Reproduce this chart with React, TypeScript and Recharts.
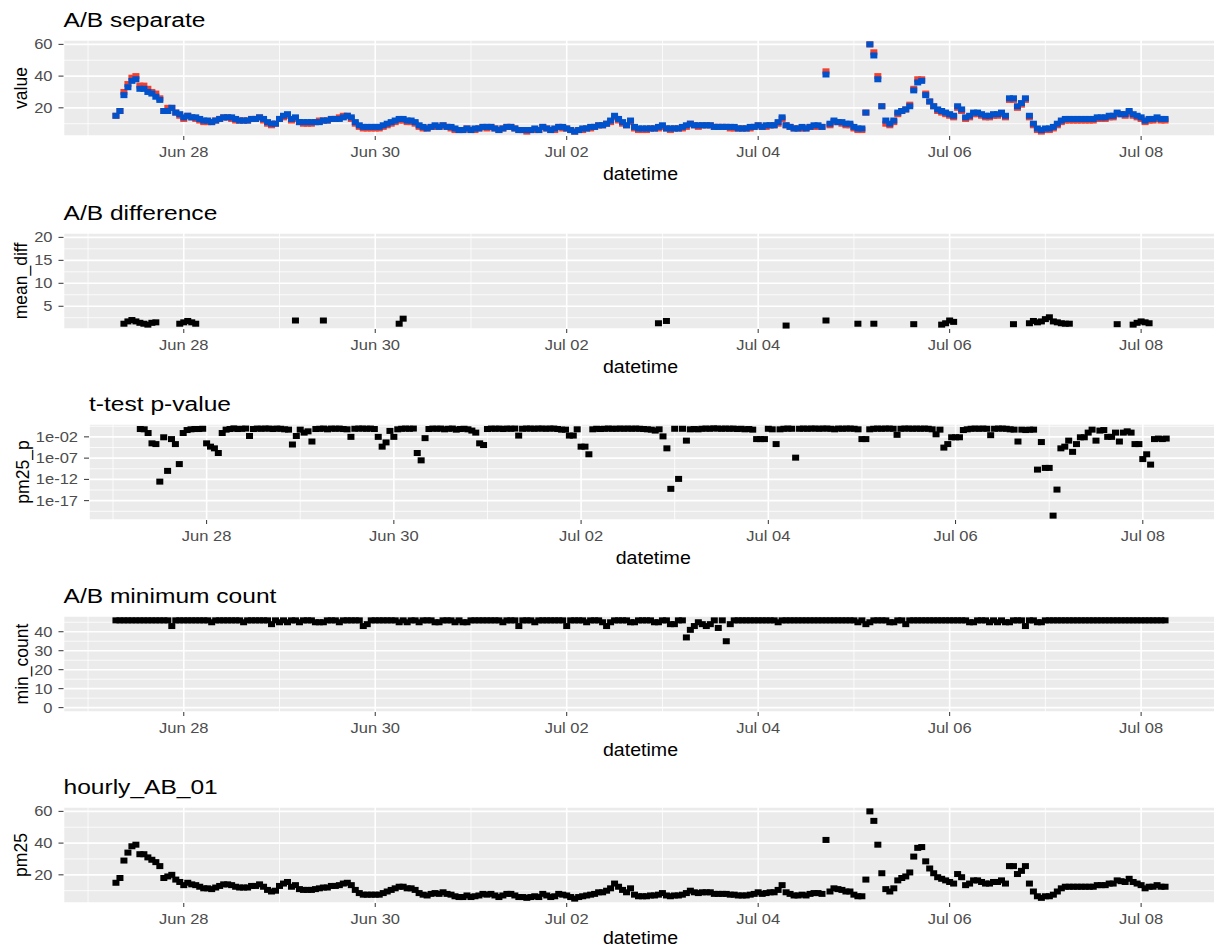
import React from 'react';
import { ScatterChart, Scatter, XAxis, YAxis, CartesianGrid } from 'recharts';

const FONT = '"Liberation Sans", Arial, Helvetica, sans-serif';
// the reference picture is a little wider than tall, so text gets a small horizontal stretch
const STRETCH = 1.18;

// hourly readings; hours counted from Jun 27 00:00, first reading at 07:00
const START_HOUR = 7;

const xTicks = [24, 72, 120, 168, 216, 264];
const xTickLabels = ['Jun 28', 'Jun 30', 'Jul 02', 'Jul 04', 'Jul 06', 'Jul 08'];
const xMinor = [0, 48, 96, 144, 192, 240];

// A/B separate, one row per day (first row starts 07:00, last row ends 06:00)
const sensorA = [
  15, 18, 30, 35, 39, 40, 34, 34, 32, 30, 29, 26, 18, 20, 20, 17, 15,
  13, 15, 14, 13, 12, 11, 11, 11, 12, 13, 14, 14, 13, 12, 12, 12, 12, 13, 13, 14, 12, 10, 9, 10,
  13, 14, 15, 12, 13, 11, 10, 10, 10, 11, 12, 12, 12, 13, 13, 14, 15, 15, 13, 10, 8, 7, 7, 7,
  7, 7, 8, 9, 10, 11, 12, 12, 11, 11, 10, 8, 7, 7, 8, 8, 8, 9, 8, 7, 6, 6, 6, 7,
  6, 6, 7, 8, 7, 8, 7, 6, 7, 8, 8, 7, 6, 6, 5, 6, 6, 6, 8, 7, 6, 6, 8, 7,
  7, 6, 5, 6, 6, 7, 7, 8, 9, 9, 10, 11, 14, 12, 10, 9, 11, 7, 6, 6, 6, 7, 7, 7,
  8, 7, 6, 7, 7, 7, 8, 10, 9, 8, 9, 9, 9, 8, 8, 8, 8, 7, 7, 7, 7, 7, 7, 8,
  9, 8, 8, 9, 9, 10, 13, 9, 8, 7, 7, 7, 7, 8, 8, 8, 8, 43, 9, 11, 11, 10, 9, 9,
  7, 6, 6, 17, 60, 55, 40, 21, 10, 9, 11, 16, 18, 19, 22, 32, 38, 38, 29, 24, 21, 18, 17, 16,
  15, 14, 20, 18, 13, 14, 16, 16, 15, 14, 14, 15, 15, 16, 14, 25, 25, 20, 22, 25, 14, 9, 6, 5,
  6, 6, 7, 9, 11, 12, 12, 12, 12, 12, 12, 12, 12, 13, 13, 13, 14, 14, 16, 16, 15, 17, 15, 14,
  13, 11, 12, 12, 13, 12, 12,
];

const sensorB = [
  15, 18, 28, 33, 37, 38, 32, 32, 30, 29, 27, 25, 18, 18, 20, 17, 16,
  14, 15, 14, 14, 13, 12, 12, 11, 12, 13, 14, 14, 14, 13, 12, 12, 12, 13, 13, 14, 13, 11, 10, 10,
  13, 15, 16, 13, 14, 11, 11, 11, 11, 11, 11, 12, 12, 13, 13, 13, 14, 15, 14, 11, 9, 8, 8, 8,
  8, 8, 9, 10, 11, 12, 13, 13, 12, 12, 11, 9, 8, 7, 8, 9, 8, 9, 8, 8, 7, 6, 6, 7,
  6, 7, 7, 8, 8, 8, 7, 6, 7, 8, 8, 7, 6, 6, 6, 6, 7, 6, 8, 7, 6, 7, 8, 8,
  7, 6, 5, 6, 7, 7, 8, 8, 9, 9, 10, 12, 15, 13, 11, 9, 12, 8, 7, 7, 7, 7, 7, 8,
  9, 7, 7, 7, 7, 8, 9, 10, 9, 9, 9, 9, 9, 8, 8, 8, 8, 8, 8, 7, 7, 7, 8, 8,
  9, 8, 9, 9, 9, 11, 14, 9, 8, 7, 7, 8, 7, 8, 9, 9, 8, 41, 10, 12, 11, 11, 10, 10,
  8, 7, 7, 17, 60, 53, 38, 21, 12, 10, 12, 17, 18, 19, 21, 31, 36, 37, 28, 24, 21, 19, 18, 17,
  16, 15, 21, 19, 14, 15, 17, 17, 16, 15, 15, 16, 16, 17, 15, 26, 26, 21, 23, 26, 15, 10, 7, 6,
  7, 7, 8, 10, 12, 13, 13, 13, 13, 13, 13, 13, 13, 14, 14, 14, 15, 15, 17, 16, 16, 18, 16, 15,
  14, 12, 13, 13, 14, 13, 13,
];

// A/B difference, only the hours where it was kept
const meanDiffHours = [
  9, 10, 11, 12, 13, 14, 15, 16, 17, 23, 24, 25, 26, 27, 52, 59, 78, 79, 143, 145, 175, 185, 193, 197, 207,
  214, 215, 216, 217, 232, 236, 237, 238, 239, 240, 241, 242, 243, 244, 245, 246, 258, 262, 263, 264, 265, 266,
];
const meanDiffValues = [
  1.2, 1.7, 2.0, 1.7, 1.4, 1.2, 1.0, 1.4, 1.5, 1.2, 1.5, 1.8, 1.5, 1.2, 1.9, 1.9, 1.2, 2.3, 1.3, 1.8, 0.8, 1.9, 1.2, 1.2, 1.1,
  1.0, 1.3, 1.9, 1.6, 1.1, 1.3, 1.8, 1.5, 1.7, 2.2, 2.6, 1.7, 1.5, 1.3, 1.2, 1.2, 1.1, 1.0, 1.4, 1.7, 1.5, 1.3,
];

// t-test p-value
const pValues = [
  0.7, 0.6, 0.08, 3e-4, 2e-4, 3e-13, 8e-3, 1e-10, 3e-3, 2e-4, 4e-9, 0.08, 0.4, 0.6, 0.7, 0.7, 0.8,
  3e-4, 5e-5, 2e-5, 1.6e-6, 0.08, 0.5, 0.7, 1, 0.7, 0.8, 0.9, 0.016, 0.7, 0.9, 0.8, 0.9, 0.9, 0.7, 0.9, 0.8, 0.6, 0.5, 1.6e-4, 0.016,
  0.5, 0.1, 0.2, 8e-4, 0.7, 0.8, 0.9, 0.6, 0.9, 0.8, 0.9, 0.7, 0.6, 0.01, 0.8, 0.9, 0.9, 0.8, 0.9, 0.7, 0.01, 5e-5, 5e-4, 0.25,
  0.01, 0.6, 0.8, 0.9, 0.8, 0.9, 1.6e-6, 3e-8, 5e-3, 0.7, 0.9, 0.8, 0.9, 0.6, 0.8, 0.9, 0.5, 0.7, 0.8, 0.6, 0.3, 0.1, 3e-4, 1.2e-4,
  0.7, 0.9, 0.8, 0.9, 0.7, 0.9, 0.8, 0.9, 0.02, 0.8, 0.9, 0.9, 0.8, 0.9, 0.9, 0.8, 0.9, 0.9, 0.7, 0.5, 0.5, 0.02, 0.02, 0.6,
  5e-5, 5e-5, 8e-7, 0.6, 0.8, 0.7, 0.8, 0.9, 0.8, 0.8, 0.9, 0.8, 0.9, 0.8, 0.9, 0.8, 0.7, 0.6, 0.5, 0.3, 0.6, 0.013, 2e-5, 6e-15,
  0.8, 1.3e-12, 0.8, 1.3e-3, 0.6, 0.7, 0.6, 0.8, 0.9, 0.8, 1, 0.9, 0.8, 0.9, 0.8, 0.9, 0.7, 0.8, 0.6, 0.7, 0.5, 3e-3, 3e-3, 3e-3,
  0.8, 0.6, 2e-4, 0.6, 0.8, 0.9, 0.8, 1.3e-7, 0.8, 0.9, 0.8, 0.9, 0.9, 0.8, 0.9, 0.9, 0.8, 0.6, 0.9, 0.8, 0.9, 0.9, 0.8, 0.6,
  3e-3, 3e-3, 0.6, 0.8, 0.9, 0.8, 0.9, 0.9, 0.8, 0.03, 0.8, 0.9, 0.9, 0.8, 0.9, 0.8, 0.9, 0.8, 0.6, 0.04, 0.5, 3e-5, 2e-4, 8e-3,
  8e-3, 8e-3, 0.4, 0.6, 0.8, 0.9, 0.8, 0.9, 0.8, 0.025, 0.8, 0.9, 0.9, 0.8, 0.6, 0.5, 8e-4, 0.5, 0.4, 0.5, 0.5, 2e-10, 6e-4, 5e-10,
  5e-10, 3e-21, 4e-15, 2e-5, 5e-5, 1.3e-3, 3e-6, 2e-4, 8e-3, 8e-3, 0.1, 0.5, 1.3e-3, 0.3, 0.4, 0.01, 0.01, 0.1, 8e-4, 0.1, 0.2, 0.1, 2e-4, 2e-4,
  6e-8, 8e-7, 3e-9, 3e-3, 4e-3, 3e-3, 4e-3,
];
const pTicks = [1e-17, 1e-12, 1e-7, 1e-2];
const pMinor = [3.16, 3.16e-5, 3.16e-10, 3.16e-15, 3.16e-20];

// A/B minimum count
const minCount = [
  46, 46, 46, 46, 46, 46, 46, 46, 46, 46, 46, 46, 46, 46, 43, 46, 46,
  46, 46, 46, 46, 46, 46, 46, 45, 46, 46, 46, 46, 46, 46, 46, 45, 46, 46, 46, 46, 46, 46, 44, 46,
  45, 46, 45, 46, 46, 45, 46, 46, 46, 45, 45, 45, 46, 46, 46, 45, 46, 46, 46, 46, 46, 43, 44, 46,
  46, 46, 46, 46, 46, 46, 45, 46, 45, 46, 46, 45, 46, 46, 46, 45, 45, 46, 46, 46, 45, 46, 45, 45,
  46, 46, 46, 46, 46, 46, 46, 46, 45, 46, 46, 46, 43, 46, 46, 46, 45, 46, 46, 46, 46, 46, 46, 46,
  43, 46, 46, 46, 46, 45, 46, 46, 46, 45, 43, 45, 46, 46, 46, 46, 45, 45, 46, 46, 46, 46, 45, 45,
  46, 46, 44, 44, 46, 46, 37, 41, 43, 45, 44, 43, 44, 46, 42, 46, 35, 44, 46, 46, 46, 46, 46, 46,
  46, 46, 46, 46, 46, 45, 46, 46, 46, 46, 46, 46, 46, 46, 46, 46, 46, 46, 46, 46, 46, 46, 46, 46,
  46, 45, 46, 44, 45, 46, 46, 46, 46, 45, 45, 46, 46, 44, 46, 46, 46, 46, 46, 46, 46, 46, 46, 46,
  46, 46, 46, 46, 46, 45, 45, 46, 46, 46, 45, 46, 45, 46, 45, 45, 46, 46, 46, 43, 46, 46, 45, 45,
  46, 46, 46, 46, 46, 46, 46, 46, 46, 46, 46, 46, 46, 46, 46, 46, 46, 46, 46, 46, 46, 46, 46, 46,
  46, 46, 46, 46, 46, 46, 46,
];

// hourly_AB_01
const pm25 = [
  15, 18, 29, 34, 38, 39, 33, 33, 31, 29.5, 28, 25.5, 18, 19, 20, 17, 15.5,
  13.5, 15, 14, 13.5, 12.5, 11.5, 11.5, 11, 12, 13, 14, 14, 13.5, 12.5, 12, 12, 12, 13, 13, 14, 12.5, 10.5, 9.5, 10,
  13, 14.5, 15.5, 12.5, 13.5, 11, 10.5, 10.5, 10.5, 11, 11.5, 12, 12, 13, 13, 13.5, 14.5, 15, 13.5, 10.5, 8.5, 7.5, 7.5, 7.5,
  7.5, 7.5, 8.5, 9.5, 10.5, 11.5, 12.5, 12.5, 11.5, 11.5, 10.5, 8.5, 7.5, 7, 8, 8.5, 8, 9, 8, 7.5, 6.5, 6, 6, 7,
  6, 6.5, 7, 8, 7.5, 8, 7, 6, 7, 8, 8, 7, 6, 6, 5.5, 6, 6.5, 6, 8, 7, 6, 6.5, 8, 7.5,
  7, 6, 5, 6, 6.5, 7, 7.5, 8, 9, 9, 10, 11.5, 14.5, 12.5, 10.5, 9, 11.5, 7.5, 6.5, 6.5, 6.5, 7, 7, 7.5,
  8.5, 7, 6.5, 7, 7, 7.5, 8.5, 10, 9, 8.5, 9, 9, 9, 8, 8, 8, 8, 7.5, 7.5, 7, 7, 7, 7.5, 8,
  9, 8, 8.5, 9, 9, 10.5, 13.5, 9, 8, 7, 7, 7.5, 7, 8, 8.5, 8.5, 8, 42, 9.5, 11.5, 11, 10.5, 9.5, 9.5,
  7.5, 6.5, 6.5, 17, 60, 54, 39, 21, 11, 9.5, 11.5, 16.5, 18, 19, 21.5, 31.5, 37, 37.5, 28.5, 24, 21, 18.5, 17.5, 16.5,
  15.5, 14.5, 20.5, 18.5, 13.5, 14.5, 16.5, 16.5, 15.5, 14.5, 14.5, 15.5, 15.5, 16.5, 14.5, 25.5, 25.5, 20.5, 22.5, 25.5, 14.5, 9.5, 6.5, 5.5,
  6.5, 6.5, 7.5, 9.5, 11.5, 12.5, 12.5, 12.5, 12.5, 12.5, 12.5, 12.5, 12.5, 13.5, 13.5, 13.5, 14.5, 14.5, 16.5, 16, 15.5, 17.5, 15.5, 14.5,
  13.5, 11.5, 12.5, 12.5, 13.5, 12.5, 12.5,
];

const COLOR_A = '#F2402F';
const COLOR_B = '#0052CC';
const COLOR_BLACK = '#000000';

const CHART_W = 1220;
const CHART_H = 192;
const PLOT_TOP = 40;
const PLOT_RIGHT = 1217.5;
const AXIS_H = 56;
const MARK_W = 7;
const MARK_H = 6;

type Pt = { h: number; v: number };

const hourly = (vals: number[]): Pt[] => vals.map((v, i) => ({ h: START_HOUR + i, v }));
const pad = (lo: number, hi: number) => {
  const d = (hi - lo) * 0.05;
  return [lo - d, hi + d];
};
const logPad = (lo: number, hi: number) => {
  const [a, b] = pad(Math.log10(lo), Math.log10(hi));
  return [Math.pow(10, a), Math.pow(10, b)];
};

const lastHour = START_HOUR + sensorB.length - 1;
const xDomain = pad(START_HOUR, lastHour);

const square = (fill: string) => (p: any) => (
  <rect x={p.cx - MARK_W / 2} y={p.cy - MARK_H / 2} width={MARK_W} height={MARK_H} fill={fill} />
);

function XTick(props: any) {
  const { x, y, payload } = props;
  const i = xTicks.indexOf(payload.value);
  return (
    <g transform={`translate(${x},${y}) scale(${STRETCH},1)`}>
      <text x={0} y={0} dy="0.71em" textAnchor="middle" fontSize={14} fontFamily={FONT} fill="#4D4D4D">
        {i >= 0 ? xTickLabels[i] : ''}
      </text>
    </g>
  );
}

const makeYTick = (fmt: (v: number) => string) => (props: any) => {
  const { x, y, payload } = props;
  return (
    <g transform={`translate(${x},${y}) scale(${STRETCH},1)`}>
      <text x={0} y={0} dy="0.355em" textAnchor="end" fontSize={14} fontFamily={FONT} fill="#4D4D4D">
        {fmt(payload.value)}
      </text>
    </g>
  );
};

const plainFmt = (v: number) => String(v);
const expFmt = (v: number) => {
  const e = Math.round(Math.log10(v));
  return `1e${e < 0 ? '-' : '+'}${String(Math.abs(e)).padStart(2, '0')}`;
};

type PanelProps = {
  top: number;
  left: number;
  title: string;
  yLabel: string;
  yLabelX: number;
  series: { data: Pt[]; color: string; name: string }[];
  yDomain: number[];
  yTicks: number[];
  yMinor: number[];
  log?: boolean;
  fmt: (v: number) => string;
  xLabelDrop?: number;
};

function Panel({ top, left, title, yLabel, yLabelX, series, yDomain, yTicks, yMinor, log, fmt, xLabelDrop = 44 }: PanelProps) {
  return (
    <div style={{ position: 'absolute', left: 0, top, width: CHART_W, height: CHART_H }}>
      <ScatterChart
        width={CHART_W}
        height={CHART_H}
        margin={{ top: PLOT_TOP, right: CHART_W - PLOT_RIGHT, bottom: 0, left: 0 }}
      >
        <CartesianGrid fill="#EBEBEB" stroke="#FFFFFF" strokeWidth={0.8} horizontalValues={yMinor} verticalValues={xMinor} />
        <CartesianGrid stroke="#FFFFFF" strokeWidth={1.6} />
        <XAxis
          type="number"
          dataKey="h"
          domain={xDomain}
          allowDataOverflow
          ticks={xTicks}
          interval={0}
          height={AXIS_H}
          axisLine={false}
          tickLine={{ stroke: '#333333', strokeWidth: 1 }}
          tickSize={4}
          tickMargin={7}
          tick={XTick}
          label={{
            value: 'datetime',
            content: (lp: any) => {
              const vb = lp.viewBox || {};
              const cx = (vb.x ?? left) + (vb.width ?? PLOT_RIGHT - left) / 2;
              const by = (vb.y ?? PLOT_TOP + 96) + xLabelDrop;
              return (
                <g transform={`translate(${cx},${by}) scale(1.12,1)`}>
                  <text x={0} y={0} textAnchor="middle" fontSize={17.5} fontFamily={FONT} fill="#000">
                    datetime
                  </text>
                </g>
              );
            },
          }}
        />
        <YAxis
          type="number"
          dataKey="v"
          domain={yDomain}
          allowDataOverflow
          scale={log ? 'log' : 'linear'}
          ticks={yTicks}
          interval={0}
          width={left}
          axisLine={false}
          tickLine={{ stroke: '#333333', strokeWidth: 1 }}
          tickSize={5}
          tickMargin={6}
          tick={makeYTick(fmt)}
          label={{
            value: yLabel,
            content: (lp: any) => {
              const vb = lp.viewBox || {};
              const cx = (vb.x ?? 0) + yLabelX;
              const cy = (vb.y ?? PLOT_TOP) + (vb.height ?? 96) / 2;
              return (
                <text
                  transform={`translate(${cx},${cy}) rotate(-90)`}
                  dy="0.355em"
                  textAnchor="middle"
                  fontSize={17.5}
                  fontFamily={FONT}
                  fill="#000"
                >
                  {yLabel}
                </text>
              );
            },
          }}
        />
        {series.map((s) => (
          <Scatter key={s.name} name={s.name} data={s.data} fill={s.color} shape={square(s.color)} isAnimationActive={false} />
        ))}
      </ScatterChart>
      <svg
        width={CHART_W}
        height={PLOT_TOP}
        style={{ position: 'absolute', left: 0, top: 0, overflow: 'visible', pointerEvents: 'none' }}
      >
        <g transform={`translate(${left},${PLOT_TOP - 13}) scale(1.17,1)`}>
          <text x={0} y={0} fontSize={21} fontFamily={FONT} fill="#000">
            {title}
          </text>
        </g>
      </svg>
    </div>
  );
}

export default function App() {
  const both = sensorA.concat(sensorB);
  const sepDomain = pad(Math.min(...both), Math.max(...both));
  const pDomain = logPad(Math.min(...pValues), Math.max(...pValues));
  const countDomain = pad(Math.min(0, ...minCount), Math.max(...minCount));
  const pmDomain = pad(Math.min(...pm25), Math.max(...pm25));
  const diffPts: Pt[] = meanDiffHours.map((h, i) => ({ h, v: meanDiffValues[i] }));

  return (
    <div
      style={{
        position: 'absolute',
        left: 0,
        top: 0,
        width: 1214,
        height: 949,
        overflow: 'hidden',
        background: '#FFFFFF',
        fontFamily: FONT,
      }}
    >
      <Panel
        top={0}
        left={63.5}
        title="A/B separate"
        yLabel="value"
        yLabelX={21}
        series={[
          { name: 'A', data: hourly(sensorA), color: COLOR_A },
          { name: 'B', data: hourly(sensorB), color: COLOR_B },
        ]}
        yDomain={sepDomain}
        yTicks={[20, 40, 60]}
        yMinor={[10, 30, 50]}
        fmt={plainFmt}
      />
      <Panel
        top={193}
        left={63.5}
        title="A/B difference"
        yLabel="mean_diff"
        yLabelX={21}
        series={[{ name: 'mean_diff', data: diffPts, color: COLOR_BLACK }]}
        yDomain={[0.05, 20.95]}
        yTicks={[5, 10, 15, 20]}
        yMinor={[2.5, 7.5, 12.5, 17.5]}
        fmt={plainFmt}
      />
      <Panel
        top={384}
        left={89}
        title="t-test p-value"
        yLabel="pm25_p"
        yLabelX={23}
        series={[{ name: 'pm25_p', data: hourly(pValues), color: COLOR_BLACK }]}
        yDomain={pDomain}
        yTicks={pTicks}
        yMinor={pMinor}
        log
        fmt={expFmt}
      />
      <Panel
        top={576}
        left={63.5}
        title="A/B minimum count"
        yLabel="min_count"
        yLabelX={22}
        series={[{ name: 'min_count', data: hourly(minCount), color: COLOR_BLACK }]}
        yDomain={countDomain}
        yTicks={[0, 10, 20, 30, 40]}
        yMinor={[5, 15, 25, 35, 45]}
        fmt={plainFmt}
      />
      <Panel
        top={767}
        left={63.5}
        title="hourly_AB_01"
        yLabel="pm25"
        yLabelX={21}
        series={[{ name: 'pm25', data: hourly(pm25), color: COLOR_BLACK }]}
        yDomain={pmDomain}
        yTicks={[20, 40, 60]}
        yMinor={[10, 30, 50]}
        fmt={plainFmt}
        xLabelDrop={41}
      />
    </div>
  );
}
